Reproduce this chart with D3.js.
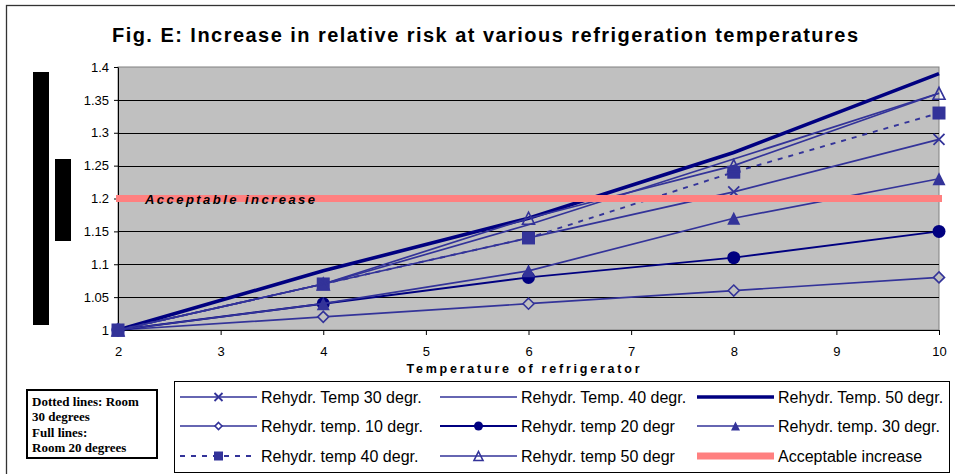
<!DOCTYPE html>
<html>
<head>
<meta charset="utf-8">
<script src="https://cdn.jsdelivr.net/npm/d3@7"></script>
<style>
  body { margin: 0; background: #fff; }
  svg { display: block; font-family: "Liberation Sans", Arial, sans-serif; }
</style>
</head>
<body>
<script>
// data
var temps = [2, 4, 6, 8, 10];
var yTicks = [1, 1.05, 1.1, 1.15, 1.2, 1.25, 1.3, 1.35, 1.4];
var yTickLabels = ["1", "1.05", "1.1", "1.15", "1.2", "1.25", "1.3", "1.35", "1.4"];
var xTicks = [2, 3, 4, 5, 6, 7, 8, 9, 10];

var seriesNames = ["Rehydr. Temp 30 degr.", "Rehydr. Temp. 40 degr.", "Rehydr. Temp. 50 degr.",
                   "Rehydr. temp. 10 degr.", "Rehydr. temp 20 degr", "Rehydr. temp. 30 degr.",
                   "Rehydr. temp 40 degr.", "Rehydr. temp 50 degr", "Acceptable increase"];

var temp30 = [1, 1.07, 1.14, 1.21, 1.29];
var temp40 = [1, 1.07, 1.16, 1.26, 1.36];
var temp50 = [1, 1.09, 1.17, 1.27, 1.39];
var room20temp10 = [1, 1.02, 1.04, 1.06, 1.08];
var room20temp20 = [1, 1.04, 1.08, 1.11, 1.15];
var room20temp30 = [1, 1.04, 1.09, 1.17, 1.23];
var room30temp40 = [1, 1.07, 1.14, 1.24, 1.33];
var room20temp50 = [1, 1.07, 1.17, 1.25, 1.36];
var acceptable = [1.2, 1.2, 1.2, 1.2, 1.2];

var seriesValues = [temp30, temp40, temp50, room20temp10, room20temp20,
                    room20temp30, room30temp40, room20temp50, acceptable];

var noteLines = ["Dotted lines: Room", "30 degrees", "Full lines:", "Room 20 degrees"];

// styles per series
var styles = [
  {color: "#333399", width: 1.7, marker: "x"},
  {color: "#333399", width: 1.7, marker: null},
  {color: "#000080", width: 3.6, marker: null},
  {color: "#333399", width: 1.7, marker: "diamond"},
  {color: "#000080", width: 1.9, marker: "circle"},
  {color: "#333399", width: 1.7, marker: "triangle"},
  {color: "#333399", width: 1.9, marker: "square", dash: "5,6"},
  {color: "#333399", width: 1.7, marker: "openTriangle"},
  {color: "#ff8080", width: 7, marker: null}
];

var svg = d3.select("body").append("svg")
  .attr("width", 955)
  .attr("height", 474);

// outer frame
svg.append("rect")
  .attr("x", 6.5).attr("y", 5.5)
  .attr("width", 1000).attr("height", 600)
  .attr("fill", "none").attr("stroke", "#333").attr("stroke-width", 1.3);

// black bars at the left
svg.append("rect").attr("x", 33).attr("y", 72).attr("width", 16).attr("height", 253).attr("fill", "#000");
svg.append("rect").attr("x", 55).attr("y", 159).attr("width", 16).attr("height", 82).attr("fill", "#000");

svg.append("text")
  .attr("x", 485).attr("y", 42)
  .attr("text-anchor", "middle")
  .attr("font-weight", "bold")
  .attr("font-size", 20)
  .attr("textLength", 746)
  .attr("lengthAdjust", "spacing")
  .text("Fig. E: Increase in relative risk at various refrigeration temperatures");

var xScale = d3.scaleLinear().domain([2, 10]).range([118, 939]);
var yScale = d3.scaleLinear().domain([1, 1.4]).range([330, 67]);

// plot area
svg.append("rect")
  .attr("x", xScale(2)).attr("y", yScale(1.4))
  .attr("width", xScale(10) - xScale(2))
  .attr("height", yScale(1) - yScale(1.4))
  .attr("fill", "#c0c0c0")
  .attr("stroke", "#808080");

svg.append("g").selectAll("line")
  .data(yTicks.slice(1, -1))
  .enter().append("line")
  .attr("x1", xScale(2)).attr("x2", xScale(10))
  .attr("y1", function(d) { return Math.round(yScale(d)) + 0.5; })
  .attr("y2", function(d) { return Math.round(yScale(d)) + 0.5; })
  .attr("stroke", "#000");

var yAxis = svg.append("g")
  .attr("transform", "translate(" + xScale(2) + ",0)")
  .call(d3.axisLeft(yScale).tickValues(yTicks).tickSize(4).tickSizeOuter(0).tickPadding(5)
        .tickFormat(function(d, i) { return yTickLabels[i]; }));

var xAxis = svg.append("g")
  .attr("transform", "translate(0," + yScale(1) + ")")
  .call(d3.axisBottom(xScale).tickValues(xTicks).tickSize(5).tickSizeOuter(0).tickPadding(12)
        .tickFormat(d3.format("d")));

[yAxis, xAxis].forEach(function(a) {
  a.selectAll("text").attr("font-size", 13).attr("font-family", "Liberation Sans, Arial").attr("fill", "#000");
  a.selectAll("line, path").attr("stroke", "#000");
});

svg.append("text")
  .attr("x", 523).attr("y", 373)
  .attr("text-anchor", "middle")
  .attr("font-weight", "bold")
  .attr("font-size", 12.5)
  .attr("textLength", 233)
  .attr("lengthAdjust", "spacing")
  .text("Temperature of refrigerator");

// marker shapes, size = width in px
function markerPath(type, size) {
  var h = size / 2;
  if (type == "x") {
    return "M" + (-h) + "," + (-h) + "L" + h + "," + h + "M" + (-h) + "," + h + "L" + h + "," + (-h);
  }
  if (type == "diamond") {
    return "M0," + (-h) + "L" + h + ",0L0," + h + "L" + (-h) + ",0Z";
  }
  if (type == "triangle" || type == "openTriangle") {
    return "M0," + (-h) + "L" + h + "," + h + "L" + (-h) + "," + h + "Z";
  }
  if (type == "square") {
    return "M" + (-h) + "," + (-h) + "H" + h + "V" + h + "H" + (-h) + "Z";
  }
  return d3.symbol().type(d3.symbolCircle).size(Math.PI * h * h)();
}

var markerSizes = {x: 11, diamond: 11, circle: 13, triangle: 13, openTriangle: 12, square: 13};
var legendSizes = {x: 8, diamond: 7, circle: 9, triangle: 9, openTriangle: 9, square: 9};

function styleMarker(sel, st, bg) {
  var m = st.marker;
  sel.attr("fill", m == "x" || m == "openTriangle" ? "none" : (m == "diamond" ? bg : st.color))
     .attr("stroke", st.color)
     .attr("stroke-width", m == "x" ? 1.8 : (m == "diamond" || m == "openTriangle" ? 1.6 : 0));
}

var line = d3.line()
  .x(function(d, i) { return xScale(temps[i]); })
  .y(function(d) { return yScale(d); });

var plot = svg.append("g");

seriesValues.forEach(function(vals, k) {
  var st = styles[k];
  var g = plot.append("g");
  var p = g.append("path")
    .datum(vals)
    .attr("d", line)
    .attr("fill", "none")
    .attr("stroke", st.color)
    .attr("stroke-width", st.width);
  if (st.dash) { p.attr("stroke-dasharray", st.dash); }
  if (k == 8) {
    // line reaches a bit past the plot edges
    p.attr("d", "M" + (xScale(2) - 2) + "," + yScale(vals[0]) + "H" + (xScale(10) + 3));
  }
  if (st.marker) {
    g.selectAll(".m")
      .data(vals)
      .enter().append("path")
      .attr("transform", function(d, i) { return "translate(" + xScale(temps[i]) + "," + yScale(d) + ")"; })
      .attr("d", markerPath(st.marker, markerSizes[st.marker]))
      .call(styleMarker, st, "#c0c0c0");
  }
});

svg.append("text")
  .attr("x", 145).attr("y", 204)
  .attr("font-weight", "bold")
  .attr("font-style", "italic")
  .attr("font-size", 13)
  .attr("textLength", 170)
  .attr("lengthAdjust", "spacing")
  .text("Acceptable increase");

// note box
svg.append("rect")
  .attr("x", 27).attr("y", 390).attr("width", 130).attr("height", 68)
  .attr("fill", "#fff").attr("stroke", "#000").attr("stroke-width", 2);

svg.append("g").selectAll("text")
  .data(noteLines)
  .enter().append("text")
  .attr("x", 32)
  .attr("y", function(d, i) { return 406 + i * 15.3; })
  .attr("font-family", "Liberation Serif, Times New Roman, serif")
  .attr("font-weight", "bold")
  .attr("font-size", 13)
  .text(function(d) { return d; });

// legend
var legend = svg.append("g");
legend.append("rect")
  .attr("x", 174.5).attr("y", 381.5).attr("width", 775).attr("height", 91)
  .attr("fill", "#fff").attr("stroke", "#000");

var colX = [180, 440, 697];
var rowY = [397, 426, 456];

seriesNames.forEach(function(name, k) {
  var st = styles[k];
  var lx = colX[k % 3], ly = rowY[Math.floor(k / 3)];
  var item = legend.append("g");
  var l = item.append("line")
    .attr("x1", lx).attr("x2", lx + 77)
    .attr("y1", ly).attr("y2", ly)
    .attr("stroke", st.color)
    .attr("stroke-width", st.width);
  if (st.dash) { l.attr("stroke-dasharray", st.dash); }
  if (st.marker) {
    item.append("path")
      .attr("transform", "translate(" + (lx + 38.5) + "," + ly + ")")
      .attr("d", markerPath(st.marker, legendSizes[st.marker]))
      .call(styleMarker, st, "#fff");
  }
  item.append("text")
    .attr("x", lx + 81).attr("y", ly + 5.5)
    .attr("font-size", 16)
    .text(name);
});
</script>
</body>
</html>
